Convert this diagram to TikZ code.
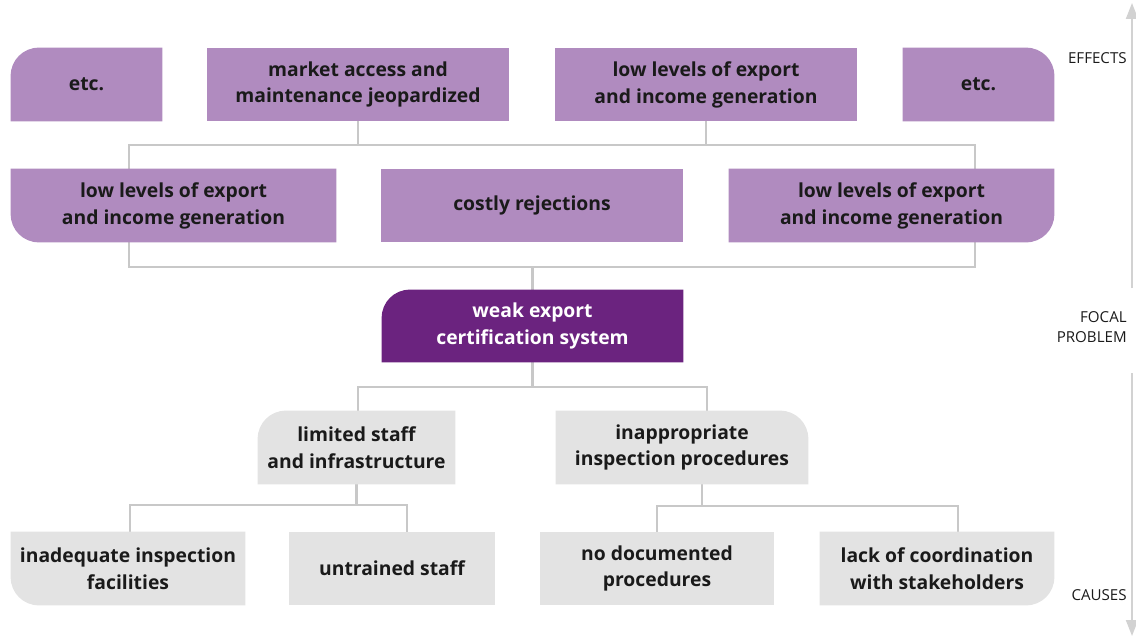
\documentclass[tikz,border=0pt]{standalone}
\usepackage{fontspec}
\setmainfont{Open Sans}
\usetikzlibrary{arrows.meta, positioning, calc, backgrounds}
\definecolor{effectPurple}{HTML}{B08BBF}
\definecolor{focalPurple}{HTML}{6B237F}
\definecolor{causeGrey}{HTML}{E3E3E3}
\definecolor{linkGrey}{HTML}{C8C8C8}
\definecolor{axisGrey}{HTML}{D2D2D2}
\definecolor{textDark}{HTML}{1A1A1A}
\tikzset{
  treebox/.style={align=center, inner sep=0pt, minimum height=1.46cm, text=textDark,
    font=\fontsize{11}{15.3}\selectfont\bfseries},
  effectbox/.style={treebox, fill=effectPurple},
  focalbox/.style={treebox, fill=focalPurple, text=white},
  causebox/.style={treebox, fill=causeGrey},
  link/.style={draw=linkGrey, line width=1.4pt},
  axisarr/.style={-{Triangle[length=0.32cm, width=0.24cm]}, draw=axisGrey, line width=1.1pt},
  sidelabel/.style={anchor=east, align=right, inner sep=0pt, text=textDark, font=\fontsize{8.6}{11.8}\selectfont},
}

\begin{document}
\begin{tikzpicture}[x=0.02cm, y=-0.02cm]
  \useasboundingbox (0,0) rectangle (1136,639);
  % effects
  \node[effectbox, fill=none, minimum width=3.02cm] (e1) at (86.5,84.5) {etc.};
  \node[effectbox, minimum width=6.04cm] (e2) at (358,84.5) {market access and\\maintenance jeopardized};
  \node[effectbox, minimum width=6.04cm] (e3) at (706,84.5) {low levels of export\\and income generation};
  \node[effectbox, fill=none, minimum width=3.02cm] (e4) at (978.5,84.5) {etc.};
  \node[effectbox, fill=none, minimum width=6.5cm] (f1) at (173.5,205.5) {low levels of export\\and income generation};
  \node[effectbox, minimum width=6.04cm] (f2) at (532,205.5) {costly rejections};
  \node[effectbox, fill=none, minimum width=6.5cm] (f3) at (891.5,205.5) {low levels of export\\and income generation};
  % focal problem
  \node[focalbox, fill=none, minimum width=6.02cm, minimum height=1.44cm] (fp) at (532.5,326) {weak export\\certification system};
  % causes
  \node[causebox, fill=none, minimum width=3.94cm] (c1) at (356.5,447.5) {limited staff\\and infrastructure};
  \node[causebox, fill=none, minimum width=5.04cm] (c2) at (682,447.5) {inappropriate\\inspection procedures};
  \node[causebox, fill=none, minimum width=4.68cm] (d1) at (128,568.5) {inadequate inspection\\facilities};
  \node[causebox, minimum width=4.12cm] (d2) at (392,568.5) {untrained staff};
  \node[causebox, minimum width=4.68cm] (d3) at (657,568.5) {no documented\\procedures};
  \node[causebox, fill=none, minimum width=4.68cm] (d4) at (937,568.5) {lack of coordination\\with stakeholders};

  % junctions
  \coordinate (tl) at (129,145); \coordinate (br) at (975,267);
  \coordinate (m1) at (358,387); \coordinate (m2) at (707,387);
  \coordinate (l1) at (130,505); \coordinate (l2) at (407,505);
  \coordinate (r0) at (702,506); \coordinate (r1) at (657,506); \coordinate (r2) at (958,506);

  \begin{scope}[on background layer]
    \draw[link] (tl) rectangle (br);
    \draw[link] (e2) -- (e2 |- tl);
    \draw[link] (e3) -- (e3 |- tl);
    \draw[link] (fp) -- (fp |- br);
    \draw[link] (fp) -- (fp |- m1);
    \draw[link] (c1.north -| m1) -- (m1) -- (m2) -- (c2.north -| m2);
    \draw[link] (c1) -- (c1 |- l1);
    \draw[link] (d1.north -| l1) -- (l1) -- (l2) -- (d2.north -| l2);
    \draw[link] (c2.south -| r0) -- (r0);
    \draw[link] (d3.north -| r1) -- (r1) -- (r2) -- (d4.north -| r2);
    % boxes with one round corner
    \foreach \n/\c in {e1/effectPurple, fp/focalPurple, c1/causeGrey}
      \fill[\c] (\n.south west) -- ([yshift=-0.56cm]\n.north west)
        arc[start angle=180, end angle=90, radius=0.56cm] -- (\n.north east) -- (\n.south east) -- cycle;
    \foreach \n/\c in {e4/effectPurple, c2/causeGrey}
      \fill[\c] (\n.south west) -- (\n.north west) -- ([xshift=-0.56cm]\n.north east)
        arc[start angle=90, end angle=0, radius=0.56cm] -- (\n.south east) -- cycle;
    \foreach \n/\c in {f1/effectPurple, d1/causeGrey}
      \fill[\c] (\n.north west) -- (\n.north east) -- (\n.south east) -- ([xshift=0.56cm]\n.south west)
        arc[start angle=270, end angle=180, radius=0.56cm] -- cycle;
    \foreach \n/\c in {f3/effectPurple, d4/causeGrey}
      \fill[\c] (\n.south west) -- (\n.north west) -- (\n.north east) -- ([yshift=0.56cm]\n.south east)
        arc[start angle=0, end angle=-90, radius=0.56cm] -- cycle;
  \end{scope}

  % side axis
  \coordinate (axtop) at (1132,3); \coordinate (axup) at (1132,288);
  \coordinate (axdown) at (1132,373); \coordinate (axbot) at (1132,636);
  \draw[axisarr] (axup) -- (axtop);
  \draw[axisarr] (axdown) -- (axbot);
  \node[sidelabel] (lblEffects) at (1127,58) {EFFECTS};
  \node[sidelabel] (lblFocal) at (1127,327) {FOCAL\\PROBLEM};
  \node[sidelabel] (lblCauses) at (1127,595) {CAUSES};
\end{tikzpicture}
\end{document}
